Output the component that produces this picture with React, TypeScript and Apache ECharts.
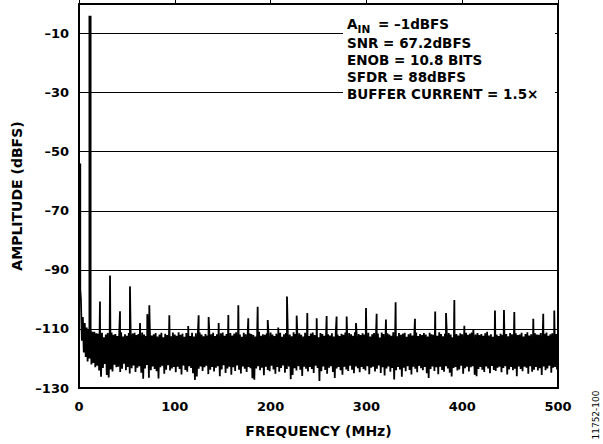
import React, { useEffect, useRef } from "react";
import * as echarts from "echarts";

// Noise-floor trace: values at even MHz (upper excursions)
const noiseHigh = [
  -54, -100, -106, -108, -109.5, -110, -110.5, -111, -111, -111.5,
  -111.6, -112.2, -111.3, -112.8, -111.9, -111.4, -112.5, -111.2, -112.0, -111.7,
  -112.4, -111.5, -111.1, -112.6, -111.8, -112.3, -111.4, -112.9, -111.6, -111.3,
  -112.1, -111.7, -112.7, -111.2, -111.9, -112.4, -111.5, -111.0, -112.2, -111.8,
  -111.4, -112.6, -111.9, -111.3, -112.8, -111.6, -112.1, -111.5, -112.5, -111.2,
  -111.9, -112.3, -111.1, -112.0, -111.6, -112.7, -111.4, -111.8, -112.4, -111.3,
  -112.6, -111.5, -112.0, -111.2, -111.9, -112.5, -111.7, -112.2, -111.0, -111.8,
  -111.3, -112.4, -111.8, -112.9, -111.5, -111.2, -112.3, -111.7, -112.0, -111.4,
  -112.2, -111.6, -111.1, -112.5, -111.9, -112.7, -111.3, -111.8, -112.4, -111.5,
  -111.7, -112.1, -112.6, -111.4, -111.0, -112.3, -111.8, -112.0, -111.5, -112.8,
  -111.2, -111.9, -112.4, -111.6, -112.1, -111.3, -112.7, -111.8, -111.4, -112.2,
  -111.9, -112.5, -111.1, -111.7, -112.3, -111.5, -112.0, -112.6, -111.3, -111.8,
  -112.4, -111.6, -111.2, -112.1, -111.9, -112.8, -111.4, -111.7, -112.3, -111.0,
  -111.8, -112.2, -111.5, -112.6, -111.3, -111.9, -112.4, -111.6, -112.0, -111.2,
  -112.7, -111.4, -111.8, -112.3, -111.1, -112.5, -111.7, -112.1, -111.5, -111.9,
  -112.2, -111.3, -112.6, -111.8, -111.4, -112.0, -111.6, -112.9, -111.2, -111.7,
  -112.4, -111.5, -111.9, -112.3, -111.1, -111.8, -112.5, -111.4, -112.0, -111.6,
  -111.3, -112.7, -111.8, -111.5, -112.2, -111.9, -111.2, -112.4, -111.7, -112.1,
  -111.4, -111.9, -112.6, -111.3, -111.8, -112.0, -111.5, -112.3, -111.1, -111.7,
  -112.5, -111.6, -112.1, -111.4, -111.9, -112.8, -111.2, -111.7, -112.2, -111.5,
  -111.8, -112.4, -111.3, -112.0, -111.6, -111.2, -112.6, -111.9, -111.4, -112.1,
  -111.7, -112.3, -111.5, -111.0, -112.2, -111.8, -112.7, -111.3, -111.9, -112.4,
  -111.6, -112.0, -111.2, -111.7, -112.5, -111.4, -111.8, -112.3, -111.5, -112.1,
  -111.9, -111.3, -112.6, -111.7, -111.1, -112.2, -111.8, -112.4, -111.5, -111.9,
  -112.0, -111.4, -112.7, -111.6, -111.2, -112.3, -111.8, -111.5, -112.1, -111.7,
  -112.0,
];

// Noise-floor trace: values at odd MHz (lower excursions)
const noiseLow = [
  -96, -114, -118, -119.5, -121, -120, -122, -121.5, -123, -122.5,
  -124.1, -126.2, -123.2, -121.9, -125.6, -126.4, -123.7, -124.4, -122.1, -123.0,
  -122.8, -124.6, -123.5, -121.8, -124.0, -122.9, -125.1, -123.3, -122.4, -124.6,
  -123.1, -122.6, -124.8, -126.9, -123.4, -122.2, -126.5, -124.0, -122.7, -123.6,
  -124.3, -126.8, -123.0, -122.5, -125.2, -123.8, -122.3, -124.1, -123.4, -122.9,
  -124.7, -122.8, -123.6, -125.4, -122.4, -123.9, -124.5, -122.6, -123.2, -125.0,
  -127.3, -126.1, -123.5, -122.7, -124.2, -123.0, -122.5, -125.3, -123.8, -122.9,
  -124.4, -123.1, -122.6, -126.0, -123.7, -122.3, -124.9, -123.4, -122.8, -125.5,
  -123.0, -124.2, -122.4, -123.8, -125.1, -122.7, -123.5, -124.6, -122.9, -123.3,
  -126.7, -127.2, -123.4, -122.6, -124.0, -123.1, -125.7, -122.8, -123.9, -124.3,
  -122.5, -123.7, -125.2, -122.9, -124.5, -123.2, -122.4, -124.8, -123.6, -122.7,
  -127.0, -125.6, -123.3, -124.1, -122.6, -123.8, -125.9, -122.8, -123.5, -124.4,
  -122.9, -123.6, -124.9, -122.5, -123.2, -127.6, -124.3, -122.7, -123.9, -125.2,
  -123.1, -122.6, -124.6, -126.6, -123.4, -122.9, -124.0, -125.5, -122.8, -123.7,
  -124.2, -122.5, -123.8, -125.0, -122.7, -123.3, -124.7, -122.9, -123.6, -124.1,
  -122.6, -125.3, -123.1, -122.8, -124.4, -123.5, -122.4, -124.9, -123.0, -125.8,
  -123.4, -122.7, -124.5, -123.2, -127.1, -124.0, -122.9, -123.7, -126.2, -123.1,
  -124.3, -122.6, -123.9, -125.4, -122.8, -123.5, -124.7, -122.5, -123.3, -124.0,
  -122.9, -125.0, -126.6, -123.6, -122.7, -124.2, -123.0, -125.3, -122.8, -123.9,
  -124.5, -122.6, -123.4, -124.8, -126.1, -123.2, -122.9, -124.1, -123.7, -122.5,
  -125.2, -123.3, -122.8, -124.4, -123.0, -122.6, -125.5, -126.0, -123.6, -122.9,
  -123.8, -124.6, -122.7, -123.4, -125.0, -122.5, -123.9, -124.2, -123.1, -122.8,
  -124.7, -123.2, -122.6, -125.4, -123.7, -122.9, -124.0, -123.5, -126.0, -122.7,
  -123.6, -124.3, -122.8, -123.1, -125.2, -122.6, -124.5, -123.8, -122.9, -124.1,
  -123.3, -125.6, -122.7, -124.0, -123.4, -122.5, -124.8, -123.1, -122.9, -123.7,
];

// Harmonics / spurs (MHz, dBFS)
const spurFreq = [
  21.9, 32.4, 42.8, 53.2, 63.7, 71.3, 73.4, 94.3, 114, 124.9,
  135.3, 145.8, 155.9, 166.3, 176.7, 186.5, 197, 208, 217.1, 227.2,
  238.3, 248.1, 258.5, 268.9, 279.4, 289.1, 299.6, 310.7, 320.4, 330.5,
  350.7, 371.8, 383.1, 391.8, 402.2, 411.6, 434.2, 443.6, 454.4, 474.2,
  484.6, 496.1,
];
const spurLevel = [
  -100.7, -91.9, -104, -95.6, -108, -105, -102, -105.4, -109, -105.4,
  -106, -108, -105.3, -102, -106.4, -102.5, -107, -109.5, -99, -105.5,
  -104.6, -106.4, -105.6, -105.8, -105.8, -108, -102.9, -104.9, -106.8, -101,
  -106.6, -104.1, -104.6, -100.2, -108.9, -110, -103.8, -103.6, -104.3, -106.6,
  -104.9, -103.8,
];

// Strong tones: DC and fundamental (MHz, dBFS, floor they rise from)
const toneFreq = [0.7, 11.5];
const toneLevel = [-54, -4];
const toneBase = [-100, -112];

const yTickValues = [-10, -30, -50, -70, -90, -110, -130];
const gridLevels = [-10, -30, -50, -70, -90, -110];
const xTickInterval = 100;

const annotationLines = [
  "SNR = 67.2dBFS",
  "ENOB = 10.8 BITS",
  "SFDR = 88dBFS",
  "BUFFER CURRENT = 1.5×",
];

const FONT = "'DejaVu Sans', 'Liberation Sans', Arial, sans-serif";

function buildTrace(): [number, number][] {
  const pts: [number, number][] = [];
  for (let i = 0; i < noiseHigh.length; i++) {
    pts.push([2 * i, noiseHigh[i]]);
    if (i < noiseLow.length) pts.push([2 * i + 1, noiseLow[i]]);
  }
  spurFreq.forEach((f, k) => pts.push([f, spurLevel[k]]));
  pts.sort((a, b) => a[0] - b[0]);
  return pts;
}

export default function App() {
  const ref = useRef<HTMLDivElement>(null);

  useEffect(() => {
    if (!ref.current) return;
    const chart = echarts.init(ref.current, undefined, { renderer: "svg" });

    const textX = 347;
    const lineY = [42.5, 59.5, 77, 93.5];
    const txtStyle = {
      fill: "#000",
      font: `bold 13.5px ${FONT}`,
      textVerticalAlign: "middle",
    };

    const toneSeries = toneFreq.map((f, k) => ({
      type: "line",
      data: [
        [f, toneBase[k]],
        [f, toneLevel[k]],
      ],
      symbol: "none",
      lineStyle: { color: "#000", width: 3 },
      silent: true,
      z: 4,
    }));

    chart.setOption({
      animation: false,
      backgroundColor: "#fff",
      grid: {
        left: 79,
        right: 45,
        top: 4,
        bottom: 56,
        show: true,
        borderColor: "#000",
        borderWidth: 2,
        backgroundColor: "transparent",
      },
      xAxis: {
        type: "value",
        min: 0,
        max: 500,
        interval: xTickInterval,
        name: "FREQUENCY (MHz)",
        nameLocation: "middle",
        nameGap: 36,
        nameTextStyle: { color: "#000", fontFamily: FONT, fontWeight: "bold", fontSize: 14 },
        axisLine: { show: true, lineStyle: { color: "#000", width: 2 } },
        axisTick: { show: true, inside: true, length: 4, lineStyle: { color: "#000", width: 1 } },
        axisLabel: { color: "#000", fontFamily: FONT, fontWeight: "bold", fontSize: 13, margin: 12 },
        splitLine: { show: false },
      },
      yAxis: {
        type: "value",
        min: -130,
        max: 0,
        interval: 10,
        name: "AMPLITUDE (dBFS)",
        nameLocation: "middle",
        nameGap: 47,
        nameTextStyle: { color: "#000", fontFamily: FONT, fontWeight: "bold", fontSize: 14 },
        axisLine: { show: true, lineStyle: { color: "#000", width: 2 } },
        axisTick: { show: false },
        axisLabel: {
          color: "#000",
          fontFamily: FONT,
          fontWeight: "bold",
          fontSize: 13,
          margin: 10,
          formatter: (v: number) =>
            yTickValues.includes(Math.round(v)) ? String(Math.round(v)).replace("-", "–") : "",
        },
        splitLine: { show: false },
      },
      series: [
        {
          type: "line",
          data: [],
          silent: true,
          z: 1,
          markLine: {
            silent: true,
            symbol: ["none", "none"],
            label: { show: false },
            lineStyle: { color: "#000", width: 1, type: "solid" },
            emphasis: { disabled: true },
            data: gridLevels.map((v) => ({ yAxis: v })),
          },
        },
        {
          type: "line",
          data: buildTrace(),
          symbol: "none",
          lineStyle: { color: "#000", width: 1.8, join: "miter", miterLimit: 2 },
          silent: true,
          z: 3,
        },
        ...toneSeries,
      ],
      graphic: [
        {
          type: "rect",
          shape: { x: 343, y: 7, width: 212, height: 94 },
          style: { fill: "#fff" },
          z: 100,
          silent: true,
        },
        {
          type: "text",
          x: textX,
          y: 24,
          z: 101,
          style: { ...txtStyle, text: "A" },
        },
        {
          type: "text",
          x: textX + 10.5,
          y: 28.5,
          z: 101,
          style: { ...txtStyle, font: `bold 10.5px ${FONT}`, text: "IN" },
        },
        {
          type: "text",
          x: 378,
          y: 24,
          z: 101,
          style: { ...txtStyle, text: "= –1dBFS" },
        },
        ...annotationLines.map((t, i) => ({
          type: "text",
          x: textX,
          y: lineY[i],
          z: 101,
          style: { ...txtStyle, text: t },
        })),
        {
          type: "text",
          x: 596,
          y: 415,
          rotation: Math.PI / 2,
          z: 101,
          style: {
            text: "11752-100",
            fill: "#000",
            font: `9px ${FONT}`,
            textAlign: "center",
            textVerticalAlign: "middle",
          },
        },
      ],
    });

    return () => chart.dispose();
  }, []);

  return (
    <div
      ref={ref}
      style={{ position: "fixed", left: 0, top: 0, width: 603, height: 444, background: "#fff" }}
    />
  );
}
